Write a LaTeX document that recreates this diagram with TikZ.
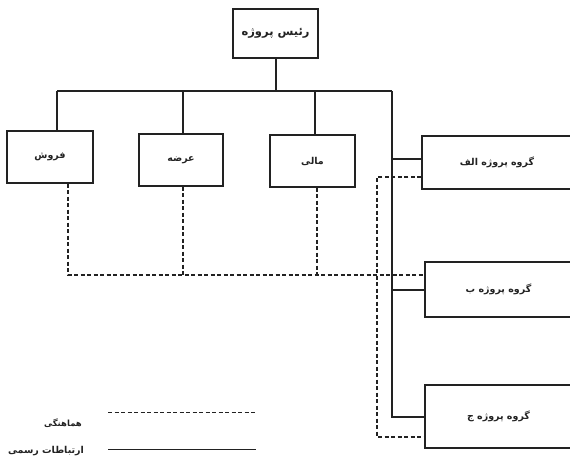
\documentclass[tikz,border=0pt]{standalone}
\usepackage{fontspec}
\newfontfamily\fa[Script=Arabic]{DejaVu Sans}
\TeXXeTstate=1
\definecolor{ink}{HTML}{222222}
\begin{document}
\begin{tikzpicture}[x=1pt,y=-1pt,
  box/.style={draw=ink,line width=1.1pt,rectangle,inner sep=0pt,font=\fa\bfseries\fontsize{9.5}{11}\selectfont,text=ink},
  solidln/.style={draw=ink,line width=1.1pt},
  dashln/.style={draw=ink,line width=1.1pt,dash pattern=on 4pt off 2.5pt},
  legtxt/.style={font=\fa\bfseries\fontsize{8.5}{10}\selectfont,text=ink}]
\useasboundingbox (0,0) rectangle (570,458);
\node[box,minimum width=85pt,minimum height=49pt,font=\fa\bfseries\fontsize{11.5}{13}\selectfont] (boss) at (275.5,33.5) {\beginR رئیس پروژه\endR};
\node[box,minimum width=86pt,minimum height=52pt] (sales) at (50,157) {\beginR فروش\endR};
\node[box,minimum width=84pt,minimum height=52pt] (supply) at (181,160) {\beginR عرضه\endR};
\node[box,minimum width=85pt,minimum height=52pt] (fin) at (312.5,161) {\beginR مالی\endR};
\node[box,minimum width=150pt,minimum height=53pt] (ga) at (497,162.5) {\beginR گروه پروژه الف\endR};
\node[box,minimum width=147pt,minimum height=55pt] (gb) at (498.5,289.5) {\beginR گروه پروژه ب\endR};
\node[box,minimum width=147pt,minimum height=63pt] (gc) at (498.5,416.5) {\beginR گروه پروژه ج\endR};
% bus coordinates
\coordinate (bm) at (276,91);
\coordinate (bl) at (57,91);
\coordinate (b2) at (183,91);
\coordinate (b3) at (315,91);
\coordinate (br) at (392,91);
\coordinate (rc) at (392,417);
\coordinate (ra) at (392,159);
\coordinate (rb) at (392,290);
% solid
\draw[solidln] (boss.south -| bm) -- (bm);
\draw[solidln] (bl) -- (br);
\draw[solidln] (bl) -- (bl |- sales.north);
\draw[solidln] (b2) -- (b2 |- supply.north);
\draw[solidln] (b3) -- (b3 |- fin.north);
\draw[solidln] (br) -- (rc) -- (rc -| gc.west);
\draw[solidln] (ra) -- (ra -| ga.west);
\draw[solidln] (rb) -- (rb -| gb.west);
% dashed
\coordinate (d1) at (68,275);
\coordinate (d2) at (183,275);
\coordinate (d3) at (317,275);
\coordinate (dA) at (377,177);
\coordinate (dC) at (377,437);
\draw[dashln] (d1 |- sales.south) -- (d1) -- (d1 -| gb.west);
\draw[dashln] (d2 |- supply.south) -- (d2);
\draw[dashln] (d3 |- fin.south) -- (d3);
\draw[dashln] (dA -| ga.west) -- (dA) -- (dC) -- (dC -| gc.west);
% legend
\coordinate (l1a) at (108,412);
\coordinate (l1b) at (256,412);
\coordinate (l2a) at (108,449);
\coordinate (l2b) at (256,449);
\draw[dashln,line width=0.9pt] (l1a) -- (l1b);
\draw[solidln,line width=0.9pt] (l2a) -- (l2b);
\node[legtxt] (lg1) at (63,423) {\beginR هماهنگی\endR};
\node[legtxt,font=\fa\bfseries\fontsize{9.5}{11}\selectfont] (lg2) at (46,451) {\beginR ارتباطات رسمی\endR};
\end{tikzpicture}
\end{document}
